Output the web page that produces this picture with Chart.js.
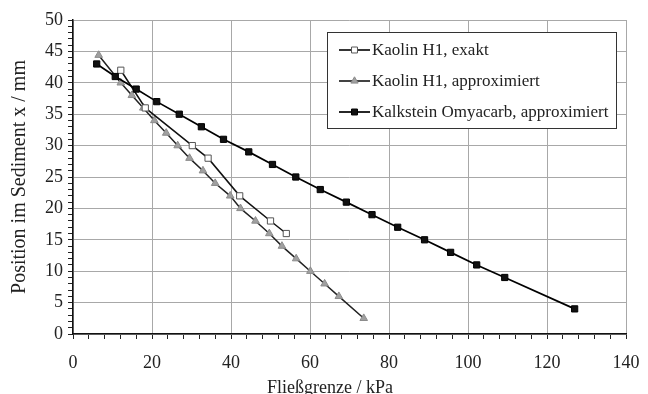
<!DOCTYPE html>
<html>
<head>
<meta charset="utf-8">
<script src="https://cdn.jsdelivr.net/npm/chart.js@4.4.1/dist/chart.umd.min.js"></script>
<style>
html,body{margin:0;padding:0;background:#fff;}
#wrap{position:relative;width:648px;height:394px;}
</style>
</head>
<body>
<div id="wrap"><canvas id="c" width="648" height="394"></canvas></div>
<script>
// ---- data ----
const seriesLabels = ["Kaolin H1, exakt", "Kaolin H1, approximiert", "Kalkstein Omyacarb, approximiert"];

const exaktX = [12.1, 18.3, 30.2, 34.2, 42.2, 50.0, 54.0];
const exaktY = [42, 36, 30, 28, 22, 18, 16];

const approxX = [6.5, 12.1, 14.9, 17.8, 20.6, 23.6, 26.5, 29.5, 32.9, 36.0, 39.8, 42.4, 46.2, 49.7, 52.9, 56.5, 60.1, 63.7, 67.3, 73.6];
const approxY = [44.4, 40, 38, 36, 34, 32, 30, 28, 26, 24, 22, 20, 18, 16, 14, 12, 10, 8, 6, 2.5];

const kalkX = [6.0, 10.7, 16.0, 21.2, 26.9, 32.5, 38.1, 44.5, 50.5, 56.4, 62.6, 69.2, 75.7, 82.2, 89.0, 95.6, 102.2, 109.3, 127.0];
const kalkY = [43, 41, 39, 37, 35, 33, 31, 29, 27, 25, 23, 21, 19, 17, 15, 13, 11, 9, 4];

const xTickLabels = [0, 20, 40, 60, 80, 100, 120, 140];
const yTickLabels = [0, 5, 10, 15, 20, 25, 30, 35, 40, 45, 50];

const xTitle = "Fließgrenze / kPa";
const yTitle = "Position im Sediment x / mm";

const toPts = (xs, ys) => xs.map((x, i) => ({x: x, y: ys[i]}));

const FONT = "'Liberation Serif', 'Times New Roman', serif";
const TEXT = '#222';
const GRID = '#a8a8a8';

const datasets = [
  {
    label: seriesLabels[0],
    data: toPts(exaktX, exaktY),
    showLine: true,
    borderColor: '#111',
    borderWidth: 1.5,
    pointStyle: 'rect',
    pointRadius: 4.4,
    pointBackgroundColor: '#fff',
    pointBorderColor: '#555',
    pointBorderWidth: 1,
    order: 2
  },
  {
    label: seriesLabels[1],
    data: toPts(approxX, approxY),
    showLine: true,
    borderColor: '#222',
    borderWidth: 1.5,
    pointStyle: 'triangle',
    pointRadius: 4.4,
    pointBackgroundColor: '#a0a0a0',
    pointBorderColor: '#8c8c8c',
    pointBorderWidth: 1,
    order: 3
  },
  {
    label: seriesLabels[2],
    data: toPts(kalkX, kalkY),
    showLine: true,
    borderColor: '#000',
    borderWidth: 1.7,
    pointStyle: 'rect',
    pointRadius: 4.4,
    pointBackgroundColor: '#111',
    pointBorderColor: '#000',
    pointBorderWidth: 1,
    order: 1
  }
];

function drawMarker(ctx, style, r, x, y, fill, stroke) {
  ctx.save();
  ctx.fillStyle = fill; ctx.strokeStyle = stroke; ctx.lineWidth = 1;
  ctx.beginPath();
  if (style === 'rect') {
    const s = Math.SQRT1_2 * r;
    ctx.rect(x - s, y - s, 2 * s, 2 * s);
  } else {
    ctx.moveTo(x, y - r);
    ctx.lineTo(x + r * Math.sin(Math.PI / 3), y + r * 0.5);
    ctx.lineTo(x - r * Math.sin(Math.PI / 3), y + r * 0.5);
    ctx.closePath();
  }
  ctx.fill(); ctx.stroke();
  ctx.restore();
}

const boxLegend = {
  id: 'boxLegend',
  afterDatasetsDraw(chart) {
    const ctx = chart.ctx;
    const bx = 327, by = 32, bw = 289, bh = 96;
    ctx.save();
    ctx.fillStyle = '#fff';
    ctx.fillRect(bx, by, bw, bh);
    ctx.strokeStyle = '#333';
    ctx.lineWidth = 1;
    ctx.strokeRect(bx + 0.5, by + 0.5, bw, bh);
    const rows = [50, 81, 112];
    chart.data.datasets.forEach((ds, i) => {
      const y = rows[i];
      ctx.strokeStyle = ds.borderColor;
      ctx.lineWidth = 1.7;
      ctx.beginPath(); ctx.moveTo(339, y); ctx.lineTo(370, y); ctx.stroke();
      drawMarker(ctx, ds.pointStyle, 4.2, 354.5, y, ds.pointBackgroundColor, ds.pointBorderColor);
      ctx.fillStyle = TEXT;
      ctx.font = "17px " + FONT;
      ctx.textBaseline = 'middle';
      ctx.textAlign = 'left';
      ctx.fillText(ds.label, 372, y + 1);
    });
    ctx.restore();
  }
};

// x-axis title, placed slightly left of the plot centre as in the reference
const xAxisTitle = {
  id: 'xAxisTitle',
  afterDraw(chart) {
    const ctx = chart.ctx;
    ctx.save();
    ctx.fillStyle = TEXT;
    ctx.font = "18px " + FONT;
    ctx.textAlign = 'center';
    ctx.textBaseline = 'alphabetic';
    ctx.fillText(xTitle, 330, 393);
    ctx.restore();
  }
};

new Chart(document.getElementById('c'), {
  type: 'scatter',
  data: { datasets: datasets },
  plugins: [boxLegend, xAxisTitle],
  options: {
    responsive: false,
    animation: false,
    layout: { padding: { left: 0, right: 22, top: 20, bottom: 0 } },
    plugins: { legend: { display: false }, tooltip: { enabled: false } },
    scales: {
      x: {
        type: 'linear',
        min: 0, max: 140,
        afterFit(scale) { scale.height = 60; scale.paddingRight = 14; scale.paddingLeft = 5; },
        ticks: {
          stepSize: 4,
          autoSkip: false,
          maxRotation: 0,
          padding: 13,
          color: TEXT,
          font: { family: FONT, size: 18 },
          callback: (v) => xTickLabels.includes(v) ? String(v) : ''
        },
        grid: {
          color: (c) => (c.tick && xTickLabels.includes(c.tick.value)) ? GRID : 'rgba(0,0,0,0)',
          lineWidth: 1,
          tickColor: '#222',
          tickLength: 5
        },
        border: { color: '#111', width: 1.5 },
        title: { display: false }
      },
      y: {
        type: 'linear',
        min: 0, max: 50,
        afterFit(scale) { scale.width = 73; },
        ticks: {
          stepSize: 1,
          autoSkip: false,
          padding: 5,
          color: TEXT,
          font: { family: FONT, size: 18 },
          callback: (v) => yTickLabels.includes(v) ? String(v) : ''
        },
        grid: {
          color: (c) => (c.tick && yTickLabels.includes(c.tick.value)) ? GRID : 'rgba(0,0,0,0)',
          lineWidth: 1,
          tickColor: '#222',
          tickLength: 5
        },
        border: { color: '#111', width: 1.5 },
        title: {
          display: true, text: yTitle, color: TEXT,
          font: { family: FONT, size: 20, lineHeight: 1.2 },
          padding: { top: 8, bottom: 0 }
        }
      }
    }
  }
});
</script>
</body>
</html>
